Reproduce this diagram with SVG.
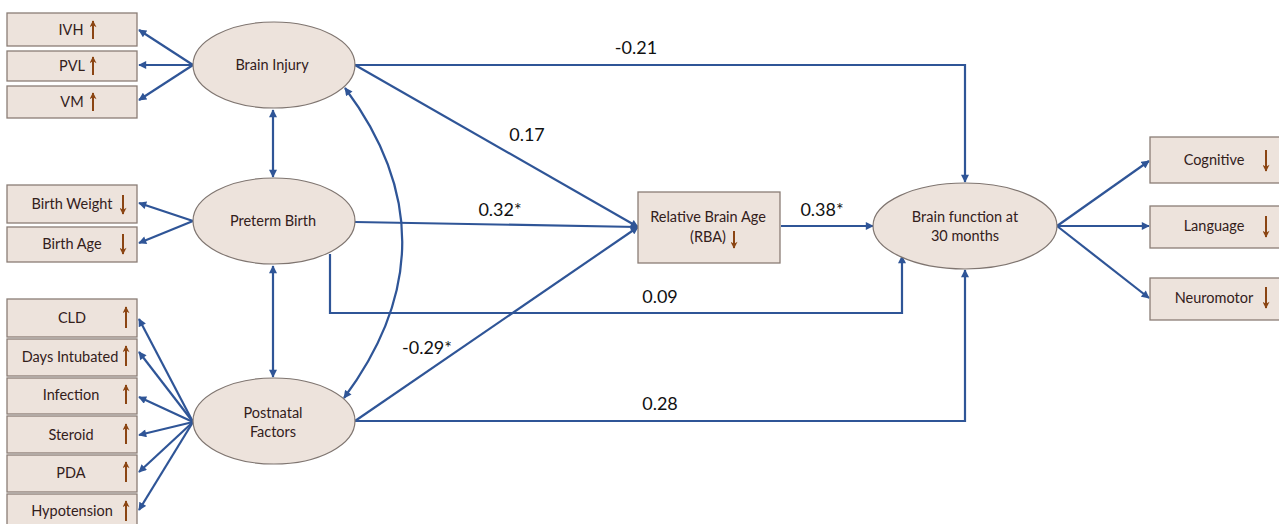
<svg xmlns="http://www.w3.org/2000/svg" width="1279" height="524" viewBox="0 0 1279 524">
  <defs>
    <marker id="ah" viewBox="0 0 10 10" refX="9" refY="5" markerWidth="9" markerHeight="8" markerUnits="userSpaceOnUse" orient="auto-start-reverse">
      <path d="M0,0 L10,5 L0,10 z" fill="#2f5597"/>
    </marker>
    <marker id="bh" viewBox="0 0 10 10" refX="9" refY="5" markerWidth="8" markerHeight="7" markerUnits="userSpaceOnUse" orient="auto">
      <path d="M0,0 L10,5 L0,10 L3,5 z" fill="#8b4513"/>
    </marker>
  </defs>
  <style>
    .box { fill: #ede3dc; stroke: #8a7d76; stroke-width: 1.3; }
    .ell { fill: #ede3dc; stroke: #7f7570; stroke-width: 1.2; }
    .t { font-family: Lato, "Noto Sans", "Liberation Sans", sans-serif; font-size: 14.5px; fill: #33201b; text-anchor: middle; }
    .lbl { font-family: Lato, "Noto Sans", "Liberation Sans", sans-serif; font-size: 18px; fill: #111; text-anchor: middle; }
    .c { fill: none; stroke: #2f5597; stroke-width: 2.2; }
    .ind { stroke: #8b4513; stroke-width: 2; fill: none; marker-end: url(#bh); }
  </style>

  <rect width="1279" height="524" fill="#ffffff"/>

  <!-- connectors -->
  <g id="connectors" class="connectors">
    <!-- Brain Injury indicators -->
    <line class="c" x1="193" y1="65" x2="139" y2="30" marker-end="url(#ah)"/>
    <line class="c" x1="193" y1="65" x2="139" y2="65" marker-end="url(#ah)"/>
    <line class="c" x1="193" y1="65" x2="139" y2="100" marker-end="url(#ah)"/>
    <!-- Preterm Birth indicators -->
    <line class="c" x1="193" y1="221" x2="139" y2="203" marker-end="url(#ah)"/>
    <line class="c" x1="193" y1="221" x2="139" y2="243" marker-end="url(#ah)"/>
    <!-- Postnatal indicators -->
    <line class="c" x1="193" y1="422" x2="139" y2="319" marker-end="url(#ah)"/>
    <line class="c" x1="193" y1="422" x2="139" y2="352" marker-end="url(#ah)"/>
    <line class="c" x1="193" y1="422" x2="139" y2="397" marker-end="url(#ah)"/>
    <line class="c" x1="193" y1="422" x2="139" y2="435" marker-end="url(#ah)"/>
    <line class="c" x1="193" y1="422" x2="139" y2="472" marker-end="url(#ah)"/>
    <line class="c" x1="193" y1="422" x2="139" y2="510" marker-end="url(#ah)"/>
    <!-- covariances -->
    <line class="c" x1="273" y1="110" x2="273" y2="177" marker-start="url(#ah)" marker-end="url(#ah)"/>
    <line class="c" x1="273" y1="266" x2="273" y2="377" marker-start="url(#ah)" marker-end="url(#ah)"/>
    <path class="c" d="M345,88 Q460,242 344,398" marker-start="url(#ah)" marker-end="url(#ah)"/>
    <!-- paths to RBA -->
    <line class="c" x1="355" y1="65" x2="638" y2="227" marker-end="url(#ah)"/>
    <line class="c" x1="355" y1="222" x2="638" y2="227" marker-end="url(#ah)"/>
    <line class="c" x1="355" y1="421" x2="638" y2="227" marker-end="url(#ah)"/>
    <!-- RBA to outcome -->
    <line class="c" x1="781" y1="226" x2="873" y2="226" marker-end="url(#ah)"/>
    <!-- direct paths to outcome -->
    <polyline class="c" points="355,65 965,65 965,182" marker-end="url(#ah)"/>
    <polyline class="c" points="330,254 330,313 902,313 902,256" marker-end="url(#ah)"/>
    <polyline class="c" points="355,421 965,421 965,270" marker-end="url(#ah)"/>
    <!-- outcome indicators -->
    <line class="c" x1="1057" y1="226" x2="1149" y2="161" marker-end="url(#ah)"/>
    <line class="c" x1="1057" y1="226" x2="1149" y2="226" marker-end="url(#ah)"/>
    <line class="c" x1="1057" y1="226" x2="1149" y2="298" marker-end="url(#ah)"/>
  </g>

  <!-- path coefficients -->
  <g id="labels">
    <text class="lbl" x="636" y="54">-0.21</text>
    <text class="lbl" x="527" y="141">0.17</text>
    <text class="lbl" x="500" y="216">0.32*</text>
    <text class="lbl" x="822" y="216">0.38*</text>
    <text class="lbl" x="660" y="303">0.09</text>
    <text class="lbl" x="427" y="354">-0.29*</text>
    <text class="lbl" x="660" y="410">0.28</text>
  </g>

  <!-- latent variables -->
  <g id="brain-injury">
    <ellipse class="ell" cx="274" cy="65" rx="81" ry="43"/>
    <text class="t" x="272" y="70">Brain Injury</text>
  </g>
  <g id="preterm-birth">
    <ellipse class="ell" cx="274" cy="221" rx="81" ry="43"/>
    <text class="t" x="273" y="226">Preterm Birth</text>
  </g>
  <g id="postnatal-factors">
    <ellipse class="ell" cx="274" cy="421" rx="81" ry="43"/>
    <text class="t" x="273" y="418">Postnatal</text>
    <text class="t" x="273" y="437">Factors</text>
  </g>
  <g id="brain-function">
    <ellipse class="ell" cx="965" cy="226" rx="92" ry="43"/>
    <text class="t" x="965" y="222">Brain function at</text>
    <text class="t" x="965" y="241">30 months</text>
  </g>

  <!-- relative brain age -->
  <g id="rba">
    <rect class="box" x="638" y="192" width="142" height="71"/>
    <text class="t" x="708" y="222">Relative Brain Age</text>
    <text class="t" x="708" y="242">(RBA)</text>
    <line class="ind" x1="734" y1="231" x2="734" y2="248"/>
  </g>

  <!-- brain injury indicators -->
  <g id="ivh">
    <rect class="box" x="7" y="13" width="130" height="33"/>
    <text class="t" x="71" y="35">IVH</text>
    <line class="ind" x1="93" y1="39" x2="93" y2="21"/>
  </g>
  <g id="pvl">
    <rect class="box" x="7" y="51" width="130" height="30"/>
    <text class="t" x="72" y="71">PVL</text>
    <line class="ind" x1="93" y1="75" x2="93" y2="57"/>
  </g>
  <g id="vm">
    <rect class="box" x="7" y="86" width="130" height="32"/>
    <text class="t" x="72" y="107">VM</text>
    <line class="ind" x1="93" y1="111" x2="93" y2="93"/>
  </g>

  <!-- preterm birth indicators -->
  <g id="birth-weight">
    <rect class="box" x="7" y="185" width="130" height="38"/>
    <text class="t" x="72" y="209">Birth Weight</text>
    <line class="ind" x1="123" y1="195" x2="123" y2="214"/>
  </g>
  <g id="birth-age">
    <rect class="box" x="7" y="227" width="130" height="35"/>
    <text class="t" x="72" y="249">Birth Age</text>
    <line class="ind" x1="123" y1="234" x2="123" y2="254"/>
  </g>

  <!-- postnatal indicators -->
  <g id="cld">
    <rect class="box" x="7" y="299" width="130" height="38"/>
    <text class="t" x="72" y="323">CLD</text>
    <line class="ind" x1="126" y1="328" x2="126" y2="307"/>
  </g>
  <g id="days-intubated">
    <rect class="box" x="7" y="339" width="130" height="37"/>
    <text class="t" x="70" y="362">Days Intubated</text>
    <line class="ind" x1="126" y1="366" x2="126" y2="346"/>
  </g>
  <g id="infection">
    <rect class="box" x="7" y="378" width="130" height="36"/>
    <text class="t" x="71" y="400">Infection</text>
    <line class="ind" x1="126" y1="404" x2="126" y2="385"/>
  </g>
  <g id="steroid">
    <rect class="box" x="7" y="416" width="130" height="37"/>
    <text class="t" x="71" y="440">Steroid</text>
    <line class="ind" x1="126" y1="444" x2="126" y2="424"/>
  </g>
  <g id="pda">
    <rect class="box" x="7" y="455" width="130" height="37"/>
    <text class="t" x="71" y="478">PDA</text>
    <line class="ind" x1="126" y1="482" x2="126" y2="462"/>
  </g>
  <g id="hypotension">
    <rect class="box" x="7" y="494" width="130" height="36"/>
    <text class="t" x="72" y="516">Hypotension</text>
    <line class="ind" x1="126" y1="521" x2="126" y2="501"/>
  </g>

  <!-- outcome indicators -->
  <g id="cognitive">
    <rect class="box" x="1150" y="137" width="135" height="46"/>
    <text class="t" x="1214" y="165">Cognitive</text>
    <line class="ind" x1="1266" y1="150" x2="1266" y2="171"/>
  </g>
  <g id="language">
    <rect class="box" x="1150" y="206" width="135" height="42"/>
    <text class="t" x="1214" y="231">Language</text>
    <line class="ind" x1="1266" y1="216" x2="1266" y2="237"/>
  </g>
  <g id="neuromotor">
    <rect class="box" x="1150" y="278" width="135" height="42"/>
    <text class="t" x="1214" y="303">Neuromotor</text>
    <line class="ind" x1="1266" y1="287" x2="1266" y2="308"/>
  </g>
</svg>
